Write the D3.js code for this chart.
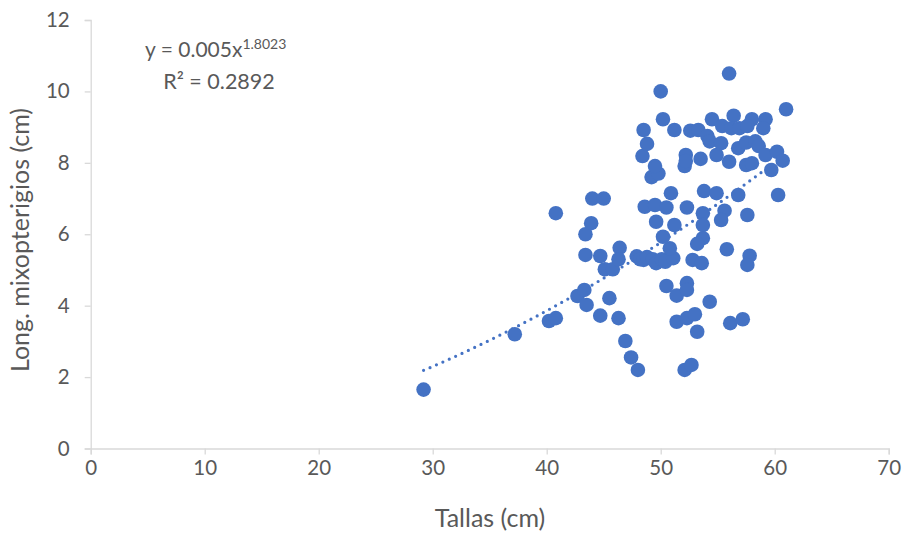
<!DOCTYPE html>
<html><head><meta charset="utf-8">
<script src="https://cdn.jsdelivr.net/npm/d3@7"></script>
<style>body{margin:0;background:#fff}svg{display:block}text{font-family:Lato,"Open Sans",sans-serif}</style>
</head><body><svg id="c" width="904" height="534"></svg>
<script>
const tallas = [29.2,37.2,40.2,40.8,40.8,42.7,43.3,43.5,43.4,43.4,43.9,44.0,45.0,44.7,44.7,45.1,45.8,45.5,46.4,46.3,46.3,46.9,47.4,48.0,47.9,48.2,48.5,48.8,49.3,49.6,50.1,50.4,51.1,50.8,50.2,49.6,51.2,48.6,49.5,50.5,52.3,50.9,49.2,49.8,49.5,48.4,48.8,48.5,50.0,50.2,51.2,52.6,53.3,54.5,52.2,52.1,53.5,54.1,54.3,54.9,56.0,61.0,56.4,58.0,59.2,55.4,56.2,56.9,57.6,59.0,55.3,56.8,57.5,58.3,58.6,56.0,59.2,60.2,60.7,57.5,58.0,59.7,53.8,54.9,56.8,60.3,53.7,55.6,55.3,57.6,53.7,53.7,53.2,52.8,53.6,55.8,57.8,57.6,50.5,52.3,51.4,52.3,54.3,51.4,52.3,53.0,53.2,56.1,57.2,52.1,52.7,52.2];
const mixo = [1.65,3.2,3.57,3.65,6.59,4.27,4.44,4.02,5.42,6.0,6.31,7.0,7.0,5.39,3.72,5.02,5.02,4.21,5.62,5.3,3.65,3.01,2.55,2.2,5.38,5.3,5.28,5.36,5.3,5.19,5.3,5.23,5.33,5.61,5.93,6.35,6.26,6.77,6.82,6.75,6.75,7.15,7.6,7.7,7.91,8.19,8.53,8.92,10.0,9.22,8.92,8.9,8.92,9.22,8.22,7.91,8.11,8.75,8.6,8.22,10.5,9.5,9.32,9.22,9.22,9.03,8.97,8.97,9.03,8.97,8.55,8.41,8.57,8.6,8.47,8.03,8.22,8.31,8.06,7.94,7.99,7.8,7.21,7.15,7.1,7.1,6.59,6.66,6.4,6.54,6.26,5.89,5.73,5.28,5.19,5.58,5.4,5.14,4.55,4.63,4.28,4.44,4.11,3.55,3.65,3.76,3.27,3.51,3.62,2.2,2.34,8.05];
const xTicks = [0,10,20,30,40,50,60,70];
const yTicks = [0,2,4,6,8,10,12];
const trendA = 0.005, trendB = 1.8023;
const eqText = "y = 0.005x", eqExp = "1.8023", r2Text = "R² = 0.2892";
const xTitle = "Tallas (cm)", yTitle = "Long. mixopterigios (cm)";

const svg = d3.select("#c");
const x = d3.scaleLinear().domain([0,70]).range([90.7,888.7]);
const y = d3.scaleLinear().domain([0,12]).range([448.5,20]);
const grey = "#d9d9d9", lab = "#595959", blue = "#4472C4";

const xa = svg.append("g").attr("transform","translate(0,448.5)")
  .call(d3.axisBottom(x).tickValues(xTicks).tickSize(6).tickPadding(6));
const ya = svg.append("g").attr("transform","translate(90.7,0)")
  .call(d3.axisLeft(y).tickValues(yTicks).tickSize(6).tickPadding(15));
[xa,ya].forEach(a=>{
  a.selectAll("path,line").attr("stroke",grey).attr("stroke-width",1.3);
  a.selectAll("text").attr("fill",lab).attr("font-size",20.5).attr("font-family","Lato");
});

// trendline
const xs = d3.range(d3.min(tallas), d3.max(tallas)+0.01, 0.25);
svg.append("path").datum(xs)
  .attr("d", d3.line().x(d=>x(d)).y(d=>y(trendA*Math.pow(d,trendB))))
  .attr("fill","none").attr("stroke",blue).attr("stroke-width",3.2)
  .attr("stroke-linecap","round").attr("stroke-dasharray","0,7");

svg.append("g").selectAll("circle").data(tallas.map((t,i)=>[t,mixo[i]])).join("circle")
  .attr("cx",d=>x(d[0])).attr("cy",d=>y(d[1])).attr("r",7.3).attr("fill",blue);

// equation
const eq = svg.append("text").attr("x",145).attr("y",57).attr("fill",lab).attr("font-size",21);
eq.append("tspan").text(eqText);
eq.append("tspan").attr("dy",-8).attr("font-size",14).text(eqExp);
svg.append("text").attr("x",219).attr("y",89).attr("text-anchor","middle").attr("fill",lab).attr("font-size",21.5).text(r2Text);

svg.append("text").attr("x",490).attr("y",527).attr("text-anchor","middle").attr("fill",lab).attr("font-size",25).text(xTitle);
svg.append("text").attr("transform","translate(29,240) rotate(-90)").attr("text-anchor","middle").attr("fill",lab).attr("font-size",25).text(yTitle);
</script></body></html>
